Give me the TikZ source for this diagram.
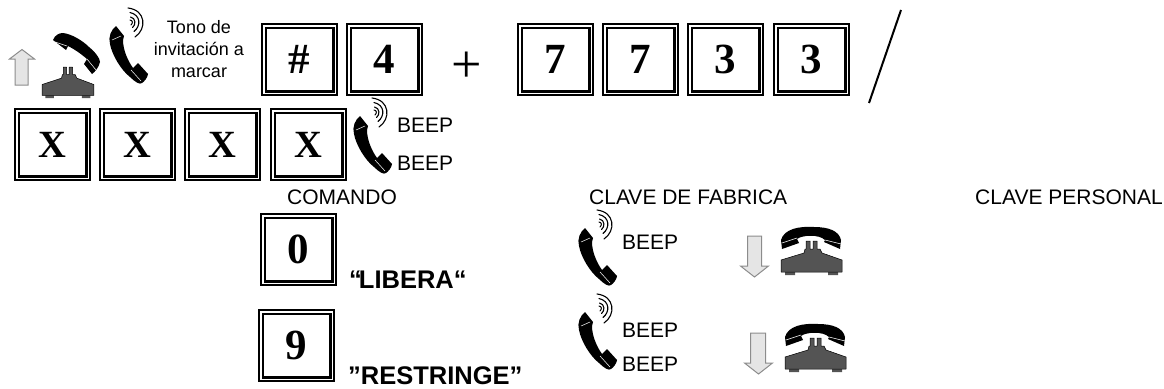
\documentclass[tikz,border=0pt]{standalone}
\usepackage{fontspec}
\setmainfont{Liberation Serif}
\setsansfont{Liberation Sans}
\definecolor{basegray}{gray}{0.33}
\definecolor{arrowfill}{gray}{0.9}
\definecolor{arrowline}{gray}{0.55}
\newcommand\kt[3]{\raisebox{-#2pt}{#3}\hspace{#1pt}}
\newcommand\xkey{\fontsize{38.5}{38.5}\selectfont X}
\tikzset{
  lbl/.style={font=\sffamily\fontsize{21}{21}\selectfont,inner sep=0pt,anchor=base west},
  lbls/.style={font=\sffamily\fontsize{18}{18}\selectfont,inner sep=0pt,anchor=base},
  lblb/.style={font=\sffamily\bfseries\fontsize{25.5}{25.5}\selectfont,inner sep=0pt,anchor=base west},
  keybox/.style={draw=black,line width=2.2pt,minimum width=75pt,minimum height=71pt,inner sep=0pt,anchor=north west,
    font=\rmfamily\bfseries\fontsize{43}{43}\selectfont,
    append after command={\pgfextra{\draw[black,line width=2.6pt] ([shift={(5pt,-5pt)}]\tikzlastnode.north west) rectangle ([shift={(-5pt,5pt)}]\tikzlastnode.south east);}}},
  hollowarrow/.style={draw=arrowline,fill=arrowfill,line width=1pt,line join=miter},
}
% handset with sound waves, drawn at its first position and shifted
\newcommand\ringer[2]{%
\begin{scope}[shift={(#1,#2)}]
  \fill[black] (116,26) .. controls (111,30) and (108,37) .. (110,44)
     .. controls (112,55) and (121,70) .. (130,77)
     .. controls (135,82) and (140,85) .. (142,83)
     .. controls (144,82) and (148,77) .. (148,74)
     -- (138,63) -- (133,68)
     .. controls (128,61) and (123,50) .. (123,40)
     -- (124,36) -- cycle;
  \draw[white,line width=0.5pt] (112,40) -- (121,36) (131,70) -- (141,81);
  \draw[black,line width=1.1pt,line cap=round]
     (128,8) .. controls (146,10) and (147,29) .. (135,37)
     (130,12.5) .. controls (141,15) and (141,26) .. (134,31.5)
     (130.5,17) .. controls (136,18) and (136,25) .. (132.5,27.5);
  \draw[black,line width=1pt,line cap=round] (130,20) .. controls (133,20.5) and (133,23) .. (131,25);
\end{scope}}
% telephone base
\newcommand\phonebase{%
  \fill[basegray] (4,45) rectangle (14,48) (47,45) rectangle (57,48);
  \fill[basegray,draw=black,line width=0.5pt,line join=round] (0,45) -- (0,33) -- (23,26) -- (24,22) -- (25,22) -- (25,14) -- (29,14) -- (29,22) -- (32,22) -- (32,14) -- (36,14) -- (36,22) -- (39,22) -- (41,26) -- (61,33) -- (61,45) -- cycle;}
% telephone with handset resting
\newcommand\hungup[2]{%
\begin{scope}[shift={(#1,#2)}]
  \phonebase
  \fill[black] (0,13) -- (1,22) -- (18,16) -- (16,12)
     .. controls (21,8) and (38,7) .. (44,13)
     -- (43,15) -- (59,22) -- (60,13)
     .. controls (58,4) and (48,0) .. (33,0)
     .. controls (18,-1) and (3,2) .. cycle;
  \draw[white,line width=0.5pt] (1,16) -- (16,11) (44,13) -- (60,17);
\end{scope}}
\begin{document}
\begin{tikzpicture}[x=1pt,y=-1pt]
\useasboundingbox (0,0) rectangle (1164,388);
% keys, first row
\node[keybox] (khash) at (261,23) {\kt{7}{2.5}{\#}};
\node[keybox] (kfour) at (346,23) {\kt{7}{2.5}{4}};
\node[keybox] (ksevena) at (517,23) {\kt{7}{2.5}{7}};
\node[keybox] (ksevenb) at (602,23) {\kt{7}{2.5}{7}};
\node[keybox] (kthreea) at (687,23) {\kt{7}{2.5}{3}};
\node[keybox] (kthreeb) at (773,23) {\kt{7}{2.5}{3}};
% keys, second row
\node[keybox] (xa) at (14,108) {\kt{3}{0}{\xkey}};
\node[keybox] (xb) at (99,108) {\kt{3}{0}{\xkey}};
\node[keybox] (xc) at (184,108) {\kt{3}{0}{\xkey}};
\node[keybox] (xd) at (270,108) {\kt{3}{0}{\xkey}};
% command keys
\node[keybox] (kzero) at (260,213) {\kt{9}{2}{0}};
\node[keybox] (knine) at (258,309) {\kt{8}{0.5}{9}};
% plus and slash
\node[inner sep=0pt,font=\rmfamily\fontsize{54}{54}\selectfont] (plus) at (466.5,67) {+};
\coordinate (slashtop) at (901,10);
\coordinate (slashbot) at (869,103);
\draw[black,line width=2pt] (slashtop) -- (slashbot);
% labels
\node[lbls] (tonoa) at (199,33) {Tono de};
\node[lbls] (tonob) at (199,55.5) {invitación a};
\node[lbls] (tonoc) at (199,77) {marcar};
\node[lbl] (beepa) at (397,132) {BEEP};
\node[lbl] (beepb) at (397,170) {BEEP};
\node[lbl] (cmd) at (287,204) {COMANDO};
\node[lbl] (fab) at (589,204) {CLAVE DE FABRICA};
\node[lbl] (pers) at (975,204) {CLAVE PERSONAL};
\node[lbl] (beepc) at (622,249) {BEEP};
\node[lbl] (beepd) at (622,337) {BEEP};
\node[lbl] (beepe) at (622,371) {BEEP};
\node[lblb] (libera) at (349,288) {“\kern-3pt LIBERA“};
\node[lblb] (restr) at (348,384) {”RESTRINGE”};
% handsets with waves
\ringer{0}{0}
\ringer{244}{90}
\ringer{469}{202}
\ringer{469}{286}
% off-hook telephone
\begin{scope}[shift={(42,54.5)},xscale=0.85,yscale=0.91]
  \phonebase
\end{scope}
\fill[black] (53,40) .. controls (55,35) and (59,33) .. (63,33)
   .. controls (72,34) and (83,41) .. (89,47)
   .. controls (95,52) and (100,58) .. (100,62)
   .. controls (99,67) and (95,72) .. (92,74)
   -- (84,64) -- (87,59) .. controls (80,53) and (74,49) .. (68,46) -- (66,50) -- cycle;
\draw[white,line width=0.5pt] (55,42) -- (67,46) (87,59) -- (96,70);
% hung-up telephones
\hungup{781}{227}
\hungup{785}{324}
% hollow arrows
\draw[hollowarrow] (15,85) -- (15,59) -- (9.5,59) -- (22,49.5) -- (34.5,59) -- (28,59) -- (28,85) -- cycle;
\draw[hollowarrow] (747.5,236) -- (747.5,266) -- (740.5,266) -- (754.5,277) -- (768.5,266) -- (761.5,266) -- (761.5,236) -- cycle;
\draw[hollowarrow] (750.5,333) -- (750.5,363) -- (744.5,363) -- (758.5,374) -- (772.5,363) -- (765.5,363) -- (765.5,333) -- cycle;
\end{tikzpicture}
\end{document}
